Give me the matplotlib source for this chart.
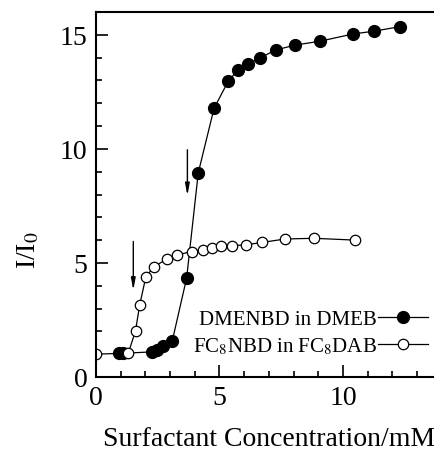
import matplotlib
matplotlib.use('Agg')
import matplotlib.pyplot as plt

# DMENBD in DMEB (filled)
x_dmeb = [0.94, 1.10, 2.25, 2.45, 2.73, 3.09, 3.67, 4.14, 4.78, 5.36, 5.75, 6.15, 6.64,
          7.29, 8.07, 9.07, 10.42, 11.27, 12.31]
y_dmeb = [1.04, 1.04, 1.10, 1.20, 1.34, 1.59, 4.34, 8.95, 11.78, 12.98, 13.46, 13.71, 13.99,
          14.34, 14.55, 14.72, 15.04, 15.16, 15.36]

# FC8NBD in FC8DAB (open)
x_fc8 = [0.0, 1.31, 1.60, 1.77, 2.02, 2.35, 2.89, 3.29, 3.87, 4.34, 4.68, 5.06, 5.52,
         6.06, 6.73, 7.66, 8.83, 10.50]
y_fc8 = [1.00, 1.05, 2.03, 3.16, 4.40, 4.84, 5.18, 5.35, 5.50, 5.58, 5.64, 5.73, 5.76,
         5.79, 5.90, 6.05, 6.08, 6.00]

# arrows: (x, y_start, y_end)
arrows = [(1.51, 5.94, 3.80), (3.70, 9.96, 7.95)]

plt.rcParams['font.family'] = ['Liberation Serif', 'DejaVu Serif']
plt.rcParams['mathtext.fontset'] = 'stix'

fig = plt.figure(figsize=(4.35, 4.6), dpi=100)
ax = fig.add_axes([96/435, 82/460, 339/435, 365/460])

ax.plot(x_dmeb, y_dmeb, '-o', color='black', lw=0.9, ms=8.5,
        mfc='black', mec='black', label='DMENBD in DMEB')
ax.plot(x_fc8, y_fc8, '-o', color='black', lw=0.9, ms=7.5,
        mfc='white', mec='black', mew=0.9, label=r'FC$_8$NBD in FC$_8$DAB')

for xa, y0, y1 in arrows:
    ax.annotate('', xy=(xa, y1), xytext=(xa, y0),
                arrowprops=dict(arrowstyle='-|>,head_length=0.7,head_width=0.13',
                                color='black', lw=1.0, shrinkA=0, shrinkB=0))

ax.set_xlim(0, 339/24.7)
ax.set_ylim(0, 16)
ax.set_xticks([0, 5, 10])
ax.set_xticks(range(0, 14), minor=True)
ax.set_yticks([0, 5, 10, 15])
ax.set_yticks(range(0, 16), minor=True)
ax.tick_params(which='both', direction='in', top=False, right=False, width=1.2,
               labelsize=20, pad=6)
ax.tick_params(which='major', length=8.5)
ax.tick_params(which='minor', length=4.5)
ax.spines['right'].set_visible(False)
for s in ['left', 'bottom', 'top']:
    ax.spines[s].set_linewidth(1.5)

ax.set_xlabel('Surfactant Concentration/mM', fontsize=20, labelpad=22)
ax.xaxis.set_label_coords(0.51, -0.135)
ax.set_ylabel('I/I$_0$', fontsize=20)
ax.yaxis.set_label_coords(-0.16, 0.35)

ax.legend(loc='center right', bbox_to_anchor=(428/435, 126/460),
          bbox_transform=fig.transFigure, frameon=False, fontsize=15,
          markerfirst=False, handlelength=2.4, handletextpad=0.05,
          labelspacing=0.3, borderpad=0, borderaxespad=0, numpoints=1)

fig.savefig('out.png', dpi=100)
